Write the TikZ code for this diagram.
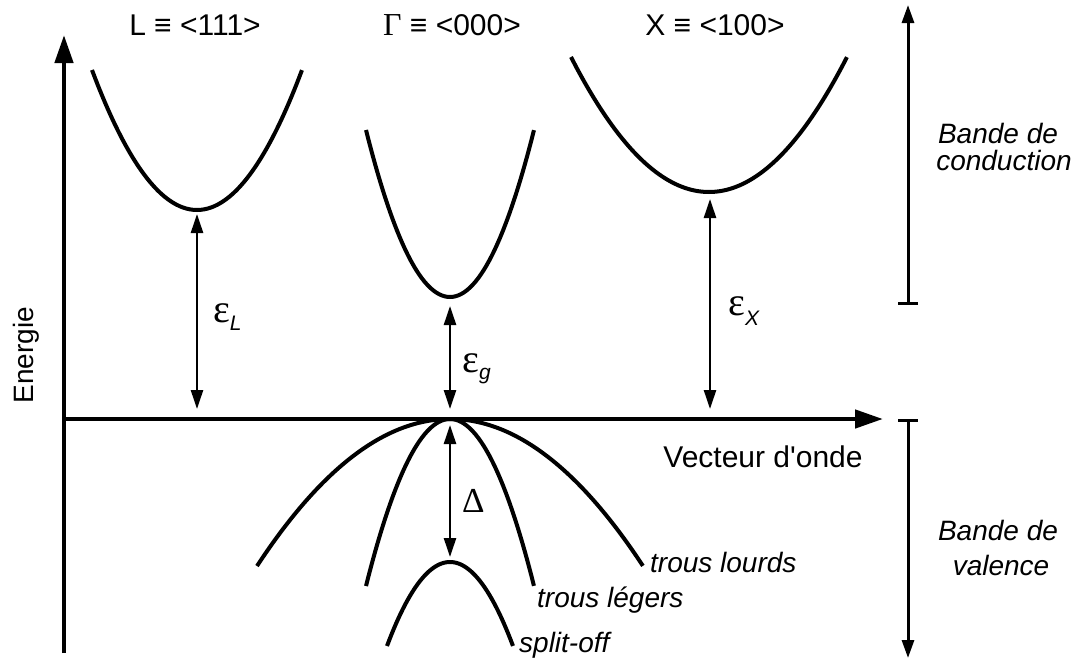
\documentclass[tikz,border=0pt]{standalone}
\usepackage{fontspec}
\setmainfont{Liberation Sans}
\newfontfamily\grfont{Liberation Serif}
\usetikzlibrary{arrows.meta}
\newcommand{\subsc}[2]{{\normalfont\fontsize{21}{25}\selectfont\itshape\raisebox{-#1}{#2}}}
\begin{document}
\begin{tikzpicture}[x=1pt,y=-1pt,
  axis/.style={line width=4.5pt, -{Triangle[length=28pt,width=18pt]}},
  band/.style={line width=4pt, line cap=butt},
  gap/.style={line width=2.5pt, {Triangle[length=19pt,width=12pt]}-{Triangle[length=19pt,width=12pt]}},
  rangearrow/.style={line width=3pt, {Bar[width=20pt]}-{Triangle[length=18pt,width=12pt]}},
  lbl/.style={inner sep=0pt, font=\fontsize{30}{36}\selectfont},
  ital/.style={inner sep=0pt, font=\fontsize{28}{33}\selectfont\itshape},
  eps/.style={inner sep=0pt, anchor=base west, font=\fontsize{40}{46}\selectfont\grfont},
]
\useasboundingbox (0,0) rectangle (1074,664);

% axes
\coordinate (Ybot) at (64,653);
\coordinate (Ytop) at (64,35);
\coordinate (O) at (64,419);
\coordinate (Xend) at (883,419);
\draw[axis] (Ybot) -- (Ytop);
\draw[axis] (O) -- (Xend);

% conduction bands
\draw[band] plot[domain=-1:1, samples=61, smooth] ({197+105*\x}, {210-140*\x*\x});
\draw[band] plot[domain=-1:1, samples=61, smooth] ({450+84*\x}, {297-167*\x*\x});
\draw[band] plot[domain=-1:1, samples=61, smooth] ({709+138*\x}, {192-135*\x*\x});

% valence bands
\draw[band] plot[domain=-1:1, samples=61, smooth] ({450+193*\x}, {419+147*\x*\x});
\draw[band] plot[domain=-1:1, samples=61, smooth] ({450+84*\x}, {419+167*\x*\x});
\draw[band] plot[domain=-1:1, samples=61, smooth] ({450+63*\x}, {562+84*\x*\x});

% gap arrows
\coordinate (Lmin) at (197,214);
\coordinate (Lax) at (197,409);
\coordinate (Gmin) at (450,306);
\coordinate (Gax) at (450,409);
\coordinate (Xmin) at (710,199);
\coordinate (Xax) at (710,409);
\coordinate (Vtop) at (450,425);
\coordinate (SOtop) at (450,557);
\draw[gap] (Lmin) -- (Lax);
\draw[gap] (Gmin) -- (Gax);
\draw[gap] (Xmin) -- (Xax);
\draw[gap] (Vtop) -- (SOtop);

% ranges on the right
\coordinate (Cbot) at (908,305);
\coordinate (Ctop) at (908,5);
\coordinate (Vbot0) at (908,419);
\coordinate (Vend) at (908,658);
\draw[rangearrow] (Cbot) -- (Ctop);
\draw[rangearrow] (Vbot0) -- (Vend);

% labels
\node[lbl, anchor=base] (tL) at (195,35) {L ≡ <111>};
\node[lbl, anchor=base] (tG) at (452,35) {{\fontsize{32}{36}\selectfont\grfont Γ} ≡ <000>};
\node[lbl, anchor=base] (tX) at (715,35) {X ≡ <100>};
\node[lbl, anchor=base, rotate=90, font=\fontsize{28}{34}\selectfont] (en) at (33,355) {Energie};
\node[lbl, anchor=base] (vo) at (763,467) {Vecteur d\textquotesingle onde};

\node[eps] (eL) at (213,322) {ε\subsc{8pt}{L}};
\node[eps] (eg) at (462,372) {ε\subsc{7pt}{g}};
\node[eps] (eX) at (728,315) {ε\subsc{10pt}{X}};
\node[eps, font=\fontsize{35}{40}\selectfont\grfont] (dl) at (462,512) {Δ};

\node[ital, anchor=base west] (hh) at (650,572) {trous lourds};
\node[ital, anchor=base west] (lh) at (537,607) {trous légers};
\node[ital, anchor=base west] (so) at (519,652) {split-off};

\node[ital, anchor=base] (bc1) at (998,143) {Bande de};
\node[ital, anchor=base] (bc2) at (1004,170) {conduction};
\node[ital, anchor=base] (bv1) at (998,540) {Bande de};
\node[ital, anchor=base] (bv2) at (1001,575) {valence};
\end{tikzpicture}
\end{document}
